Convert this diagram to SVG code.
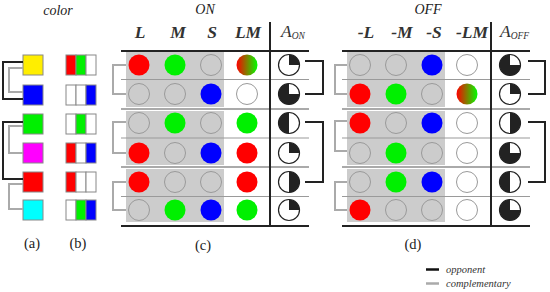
<svg xmlns="http://www.w3.org/2000/svg" width="550" height="292" viewBox="0 0 550 292">
<defs>
<linearGradient id="rg" x1="0" y1="0" x2="1" y2="0">
<stop offset="0" stop-color="#ff0000"/>
<stop offset="1" stop-color="#00ff00"/>
</linearGradient>
<style>
.ttl{font-family:"Liberation Serif",serif;font-style:italic;font-size:14px;fill:#222}
.hdr{font-family:"Liberation Serif",serif;font-style:italic;font-weight:bold;font-size:17.5px;fill:#333;text-anchor:middle}
.ah{font-family:"Liberation Serif",serif;font-style:italic;font-size:17.5px;fill:#333}
.sub{font-size:9.5px}
.lbl{font-family:"Liberation Serif",serif;font-size:14.5px;fill:#222;text-anchor:middle}
.leg{font-family:"Liberation Serif",serif;font-style:italic;font-size:10.5px;fill:#333}
.sq{stroke:#888;stroke-width:1}
.cell{stroke:#888;stroke-width:1}
.gbox{fill:#cccccc}
.e{fill:none;stroke:#9a9a9a;stroke-width:1}
.w{fill:#fff;stroke:#9a9a9a;stroke-width:1}
.R{fill:#ff0000}.G{fill:#00f000}.B{fill:#0000ff}.X{fill:url(#rg)}
.pc{fill:#fff;stroke:#222;stroke-width:1.2}
.pf{fill:#222}
.rowsep{stroke:#9a9a9a;stroke-width:1.2}
.pairsep{stroke:#aaa;stroke-width:2}
.rule{stroke:#222;stroke-width:2;fill:none}
.opp{fill:none;stroke:#222;stroke-width:2}
.comp{fill:none;stroke:#aaa;stroke-width:2}
</style>
</defs>
<rect width="550" height="292" fill="#fff"/>

<!-- titles -->
<text class="ttl" x="58" y="15" text-anchor="middle">color</text>
<text class="ttl" x="205" y="14" text-anchor="middle">ON</text>
<text class="ttl" x="428" y="14" text-anchor="middle">OFF</text>

<!-- panel (a) -->
<g id="a-yellow"><rect class="sq" x="23" y="55" width="20" height="20" fill="#ffee00"/></g>
<g id="a-blue"><rect class="sq" x="23" y="85" width="20" height="20" fill="#0000ff"/></g>
<g id="a-green"><rect class="sq" x="23" y="114" width="20" height="20" fill="#00f000"/></g>
<g id="a-magenta"><rect class="sq" x="23" y="143" width="20" height="20" fill="#ff00ff"/></g>
<g id="a-red"><rect class="sq" x="23" y="172" width="20" height="20" fill="#ff0000"/></g>
<g id="a-cyan"><rect class="sq" x="23" y="200" width="20" height="20" fill="#00ffff"/></g>

<!-- panel (b) -->
<g id="b-row1"><rect class="cell" x="66" y="55" width="10" height="20" fill="#ff0000"/><rect class="cell" x="76" y="55" width="10" height="20" fill="#00f000"/><rect class="cell" x="86" y="55" width="10" height="20" fill="#fff"/></g>
<g id="b-row2"><rect class="cell" x="66" y="85" width="10" height="20" fill="#fff"/><rect class="cell" x="76" y="85" width="10" height="20" fill="#fff"/><rect class="cell" x="86" y="85" width="10" height="20" fill="#0000ff"/></g>
<g id="b-row3"><rect class="cell" x="66" y="114" width="10" height="20" fill="#fff"/><rect class="cell" x="76" y="114" width="10" height="20" fill="#00f000"/><rect class="cell" x="86" y="114" width="10" height="20" fill="#fff"/></g>
<g id="b-row4"><rect class="cell" x="66" y="143" width="10" height="20" fill="#ff0000"/><rect class="cell" x="76" y="143" width="10" height="20" fill="#fff"/><rect class="cell" x="86" y="143" width="10" height="20" fill="#0000ff"/></g>
<g id="b-row5"><rect class="cell" x="66" y="172" width="10" height="20" fill="#ff0000"/><rect class="cell" x="76" y="172" width="10" height="20" fill="#fff"/><rect class="cell" x="86" y="172" width="10" height="20" fill="#fff"/></g>
<g id="b-row6"><rect class="cell" x="66" y="200" width="10" height="20" fill="#fff"/><rect class="cell" x="76" y="200" width="10" height="20" fill="#00f000"/><rect class="cell" x="86" y="200" width="10" height="20" fill="#0000ff"/></g>

<!-- panel (c) table frame -->
<g id="c-frame">
<rect class="gbox" x="126" y="52" width="98" height="55"/>
<rect class="gbox" x="126" y="111" width="98" height="54"/>
<rect class="gbox" x="126" y="169" width="98" height="53"/>
<line class="rowsep" x1="121" y1="79.5" x2="309" y2="79.5"/>
<line class="rowsep" x1="121" y1="138" x2="309" y2="138"/>
<line class="rowsep" x1="121" y1="196.5" x2="309" y2="196.5"/>
<line class="pairsep" x1="121" y1="109" x2="309" y2="109"/>
<line class="pairsep" x1="121" y1="167" x2="309" y2="167"/>
<line class="rule" x1="121" y1="51" x2="309" y2="51"/>
<line class="rule" x1="121" y1="226" x2="309" y2="226"/>
<line class="rule" x1="270" y1="22" x2="270" y2="226"/>
<text class="hdr" x="140" y="38">L</text>
<text class="hdr" x="178" y="38">M</text>
<text class="hdr" x="212" y="38">S</text>
<text class="hdr" x="248" y="38">LM</text>
<text class="ah" x="281" y="37">A<tspan class="sub" dy="2">ON</tspan></text>
</g>

<!-- panel (d) table frame -->
<g id="d-frame">
<rect class="gbox" x="347" y="52" width="98" height="55"/>
<rect class="gbox" x="347" y="111" width="98" height="54"/>
<rect class="gbox" x="347" y="169" width="98" height="53"/>
<line class="rowsep" x1="342" y1="79.5" x2="530" y2="79.5"/>
<line class="rowsep" x1="342" y1="138" x2="530" y2="138"/>
<line class="rowsep" x1="342" y1="196.5" x2="530" y2="196.5"/>
<line class="pairsep" x1="342" y1="109" x2="530" y2="109"/>
<line class="pairsep" x1="342" y1="167" x2="530" y2="167"/>
<line class="rule" x1="342" y1="51" x2="530" y2="51"/>
<line class="rule" x1="342" y1="226" x2="530" y2="226"/>
<line class="rule" x1="491" y1="22" x2="491" y2="226"/>
<text class="hdr" x="366" y="38">-L</text>
<text class="hdr" x="402" y="38">-M</text>
<text class="hdr" x="434" y="38">-S</text>
<text class="hdr" x="472" y="38">-LM</text>
<text class="ah" x="500" y="37">A<tspan class="sub" dy="2">OFF</tspan></text>
</g>

<!-- panel (c) rows -->
<g id="c-row1"><circle class="R" cx="139" cy="65" r="10.5"/><circle class="G" cx="175" cy="65" r="10.5"/><circle class="e" cx="211" cy="65" r="10.5"/><circle class="X" cx="247" cy="65" r="10.5"/>
<circle class="pc" cx="289" cy="65" r="10.5"/><path class="pf" d="M289,65 V54.5 A10.5,10.5 0 0 1 299.5,65 Z"/></g>
<g id="c-row2"><circle class="e" cx="139" cy="94" r="10.5"/><circle class="e" cx="175" cy="94" r="10.5"/><circle class="B" cx="211" cy="94" r="10.5"/><circle class="w" cx="247" cy="94" r="10.5"/>
<circle class="pc" cx="289" cy="94" r="10.5"/><path class="pf" d="M289,94 H299.5 A10.5,10.5 0 1 1 289,83.5 Z"/></g>
<g id="c-row3"><circle class="e" cx="139" cy="123" r="10.5"/><circle class="G" cx="175" cy="123" r="10.5"/><circle class="e" cx="211" cy="123" r="10.5"/><circle class="G" cx="247" cy="123" r="10.5"/>
<circle class="pc" cx="289" cy="123" r="10.5"/><path class="pf" d="M289,112.5 A10.5,10.5 0 0 0 289,133.5 Z"/></g>
<g id="c-row4"><circle class="R" cx="139" cy="153" r="10.5"/><circle class="e" cx="175" cy="153" r="10.5"/><circle class="B" cx="211" cy="153" r="10.5"/><circle class="R" cx="247" cy="153" r="10.5"/>
<circle class="pc" cx="289" cy="153" r="10.5"/><path class="pf" d="M289,153 V142.5 A10.5,10.5 0 0 1 299.5,153 Z"/></g>
<g id="c-row5"><circle class="R" cx="139" cy="182" r="10.5"/><circle class="e" cx="175" cy="182" r="10.5"/><circle class="e" cx="211" cy="182" r="10.5"/><circle class="R" cx="247" cy="182" r="10.5"/>
<circle class="pc" cx="289" cy="182" r="10.5"/><path class="pf" d="M289,171.5 A10.5,10.5 0 0 1 289,192.5 Z"/></g>
<g id="c-row6"><circle class="e" cx="139" cy="210" r="10.5"/><circle class="G" cx="175" cy="210" r="10.5"/><circle class="B" cx="211" cy="210" r="10.5"/><circle class="G" cx="247" cy="210" r="10.5"/>
<circle class="pc" cx="289" cy="210" r="10.5"/><path class="pf" d="M289,210 V199.5 A10.5,10.5 0 0 1 299.5,210 Z"/></g>

<!-- panel (d) rows -->
<g id="d-row1"><circle class="e" cx="360" cy="65" r="10.5"/><circle class="e" cx="396" cy="65" r="10.5"/><circle class="B" cx="432" cy="65" r="10.5"/><circle class="w" cx="467" cy="65" r="10.5"/>
<circle class="pc" cx="510" cy="65" r="10.5"/><path class="pf" d="M510,65 H520.5 A10.5,10.5 0 1 1 510,54.5 Z"/></g>
<g id="d-row2"><circle class="R" cx="360" cy="94" r="10.5"/><circle class="G" cx="396" cy="94" r="10.5"/><circle class="e" cx="432" cy="94" r="10.5"/><circle class="X" cx="467" cy="94" r="10.5"/>
<circle class="pc" cx="510" cy="94" r="10.5"/><path class="pf" d="M510,94 V83.5 A10.5,10.5 0 0 1 520.5,94 Z"/></g>
<g id="d-row3"><circle class="R" cx="360" cy="123" r="10.5"/><circle class="e" cx="396" cy="123" r="10.5"/><circle class="B" cx="432" cy="123" r="10.5"/><circle class="w" cx="467" cy="123" r="10.5"/>
<circle class="pc" cx="510" cy="123" r="10.5"/><path class="pf" d="M510,112.5 A10.5,10.5 0 0 1 510,133.5 Z"/></g>
<g id="d-row4"><circle class="e" cx="360" cy="153" r="10.5"/><circle class="G" cx="396" cy="153" r="10.5"/><circle class="e" cx="432" cy="153" r="10.5"/><circle class="w" cx="467" cy="153" r="10.5"/>
<circle class="pc" cx="510" cy="153" r="10.5"/><path class="pf" d="M510,153 H520.5 A10.5,10.5 0 1 1 510,142.5 Z"/></g>
<g id="d-row5"><circle class="e" cx="360" cy="182" r="10.5"/><circle class="G" cx="396" cy="182" r="10.5"/><circle class="B" cx="432" cy="182" r="10.5"/><circle class="w" cx="467" cy="182" r="10.5"/>
<circle class="pc" cx="510" cy="182" r="10.5"/><path class="pf" d="M510,171.5 A10.5,10.5 0 0 0 510,192.5 Z"/></g>
<g id="d-row6"><circle class="R" cx="360" cy="210" r="10.5"/><circle class="e" cx="396" cy="210" r="10.5"/><circle class="e" cx="432" cy="210" r="10.5"/><circle class="w" cx="467" cy="210" r="10.5"/>
<circle class="pc" cx="510" cy="210" r="10.5"/><path class="pf" d="M510,210 H520.5 A10.5,10.5 0 1 1 510,199.5 Z"/></g>

<!-- connectors -->
<g id="connectors">
<path class="opp" d="M23,62 H3 V99 H23"/>
<path class="opp" d="M23,122 H3 V179 H23"/>
<path class="comp" d="M23,68 H9 V92 H23"/>
<path class="comp" d="M23,126 H9 V153 H23"/>
<path class="comp" d="M23,184 H9 V209 H23"/>
<path class="comp" d="M126,65 H113 V94 H126"/>
<path class="comp" d="M126,122 H113 V153 H126"/>
<path class="comp" d="M126,182 H113 V210 H126"/>
<path class="comp" d="M347,65 H335 V94 H347"/>
<path class="comp" d="M347,121 H335 V151 H347"/>
<path class="comp" d="M347,182 H335 V210 H347"/>
<path class="opp" d="M305,61 H323 V94 H305"/>
<path class="opp" d="M305,122 H323 V182 H305"/>
<path class="opp" d="M528,61 H545 V94 H528"/>
<path class="opp" d="M528,122 H545 V182 H528"/>
</g>

<!-- panel labels -->
<text class="lbl" x="32" y="248">(a)</text>
<text class="lbl" x="78" y="248">(b)</text>
<text class="lbl" x="203" y="250">(c)</text>
<text class="lbl" x="413" y="249">(d)</text>

<!-- legend -->
<g id="legend">
<line x1="426" y1="269.5" x2="439" y2="269.5" stroke="#111" stroke-width="2.5"/>
<text class="leg" x="446" y="273">opponent</text>
<line x1="426" y1="283.5" x2="439" y2="283.5" stroke="#aaa" stroke-width="2.5"/>
<text class="leg" x="446" y="287">complementary</text>
</g>
</svg>
